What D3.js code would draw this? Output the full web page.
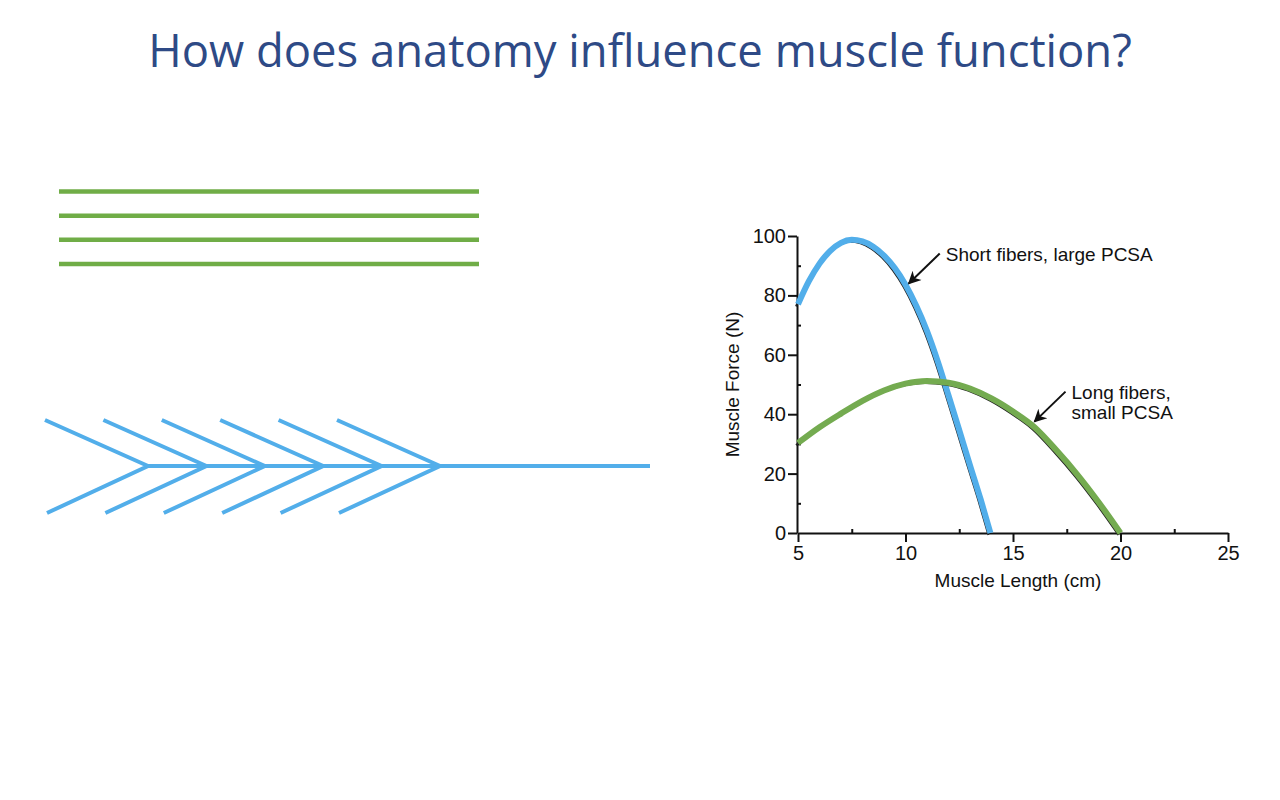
<!DOCTYPE html>
<html lang="en">
<head>
<meta charset="UTF-8">
<title>How does anatomy influence muscle function?</title>
<script src="https://d3js.org/d3.v7.min.js"></script>
<style>
  body { margin: 0; background: #fff; }
  svg { display: block; }
  .chart text { font-family: "Liberation Sans", Arial, sans-serif; fill: #111; }
</style>
</head>
<body>
<svg width="1280" height="800"></svg>
<script>
// muscle length (cm) and force (N)
const shortLen   = [5, 5.5, 6, 6.5, 7, 7.5, 8, 8.5, 9, 9.5, 10, 10.5, 11, 11.5, 12, 12.5, 13, 13.5, 13.95];
const shortForce = [77, 84.7, 90.7, 95, 97.7, 98.7, 98.2, 96.4, 93.4, 89.2, 83.6, 76.5, 68, 57.8, 46.3, 34.6, 22.8, 11.2, 0];
const longLen    = [5, 6, 7, 8, 9, 10, 11, 12, 13, 14, 15, 16, 17, 18, 19, 20];
const longForce  = [30.3, 35.6, 40.2, 44.5, 48, 50.3, 51.2, 50.6, 48.6, 45.3, 40.9, 35.6, 28, 19.6, 10.2, 0];

const xTicks = [5, 10, 15, 20, 25];
const xMinor = [7.5, 12.5, 17.5, 22.5];
const yTicks = [0, 20, 40, 60, 80, 100];
const yMinor = [10, 30, 50, 70, 90];

const fiberRows = [0, 1, 2, 3];
const chevrons = [0, 1, 2, 3, 4, 5];

const blue = '#52aeea', green = '#74ab50';

const svg = d3.select('svg');

// title
const title = svg.append('text')
  .attr('x', 640).attr('y', 67)
  .attr('text-anchor', 'middle')
  .style('font-family', '"Open Sans", sans-serif')
  .style('font-size', '40px')
  .attr('fill', '#2e4a86')
  .text('How does anatomy influence muscle function?');
const tw = title.node().getComputedTextLength();
title.style('font-size', (40 * 984 / tw) + 'px');

// parallel fibers
const rowY = d3.scalePoint().domain(fiberRows).range([191.5, 264]);
svg.append('g').selectAll('line')
  .data(fiberRows).enter().append('line')
  .attr('x1', 59).attr('x2', 479)
  .attr('y1', d => rowY(d)).attr('y2', d => rowY(d))
  .attr('stroke', '#70ad47').attr('stroke-width', 4.5);

// pennate fibers
const vx = d3.scaleLinear().domain([0, 5]).range([148, 440]);
const pen = svg.append('g').attr('stroke', blue).attr('stroke-width', 4).attr('fill', 'none');
pen.append('line').attr('x1', vx(0)).attr('x2', 650).attr('y1', 466).attr('y2', 466);
pen.selectAll('.arm').data(chevrons).enter().append('path')
  .attr('class', 'arm')
  .attr('d', d => `M${vx(d) - 103},420L${vx(d)},466L${vx(d) - 101},513`);

// chart
const x = d3.scaleLinear().domain([5, 25]).range([798, 1228]);
const y = d3.scaleLinear().domain([0, 100]).range([533, 236]);
const g = svg.append('g').attr('class', 'chart');

const xAx = g.append('g').attr('transform', `translate(0,${y(0)})`)
  .call(d3.axisBottom(x).tickValues(xTicks).tickSize(9).tickPadding(4).tickSizeOuter(0));
const xAxMinor = g.append('g').attr('transform', `translate(0,${y(0)})`)
  .call(d3.axisTop(x).tickValues(xMinor).tickSize(4).tickFormat('').tickSizeOuter(0));
const yAx = g.append('g').attr('transform', `translate(${x(5) - 1},0)`)
  .call(d3.axisLeft(y).tickValues(yTicks).tickSize(9).tickPadding(2).tickSizeOuter(0));
const yAxMinor = g.append('g').attr('transform', `translate(${x(5) - 1},0)`)
  .call(d3.axisRight(y).tickValues(yMinor).tickSize(4).tickFormat('').tickSizeOuter(0));

[xAx, xAxMinor, yAx, yAxMinor].forEach(a => {
  a.selectAll('path, line').attr('stroke', '#111').attr('stroke-width', 2);
  a.selectAll('text').style('font-size', '20px').attr('fill', '#111');
});
xAxMinor.select('.domain').remove();
yAxMinor.select('.domain').remove();

g.append('text').attr('x', x(15) + 5).attr('y', 587)
  .attr('text-anchor', 'middle').style('font-size', '19px')
  .text('Muscle Length (cm)');
g.append('text').attr('transform', `translate(739,${y(50)}) rotate(-90)`)
  .attr('text-anchor', 'middle').style('font-size', '19px')
  .text('Muscle Force (N)');

const line = d3.line().x(d => x(d[0])).y(d => y(d[1])).curve(d3.curveMonotoneX);
const curves = [
  { pts: d3.zip(shortLen, shortForce), color: blue },
  { pts: d3.zip(longLen, longForce), color: green }
];
curves.forEach(c => {
  g.append('path').attr('d', line(c.pts)).attr('fill', 'none')
    .attr('stroke', '#222').attr('stroke-width', 2)
    .attr('transform', 'translate(-2,2)');
  g.append('path').attr('d', line(c.pts)).attr('fill', 'none')
    .attr('stroke', c.color).attr('stroke-width', 6);
});

// arrows
svg.append('defs').append('marker')
  .attr('id', 'head').attr('viewBox', '0 0 10 10')
  .attr('refX', 9).attr('refY', 5)
  .attr('markerUnits', 'userSpaceOnUse')
  .attr('markerWidth', 17).attr('markerHeight', 13)
  .attr('orient', 'auto')
  .append('path').attr('d', 'M0,0L10,5L0,10L3,5Z').attr('fill', '#111');

const notes = [
  { tip: [10.15, 84], lines: ['Short fibers, large PCSA'] },
  { tip: [16.0, 37.5], lines: ['Long fibers,', 'small PCSA'] }
];
notes.forEach(n => {
  const tx = x(n.tip[0]), ty = y(n.tip[1]);
  g.append('line')
    .attr('x1', tx + 31).attr('y1', ty - 30)
    .attr('x2', tx).attr('y2', ty)
    .attr('stroke', '#111').attr('stroke-width', 2)
    .attr('marker-end', 'url(#head)');
  const t = g.append('text').attr('x', tx + 37).attr('y', ty - 23).style('font-size', '19px');
  n.lines.forEach((s, i) => t.append('tspan').attr('x', tx + 37).attr('dy', i ? 20 : 0).text(s));
});
</script>
</body>
</html>
